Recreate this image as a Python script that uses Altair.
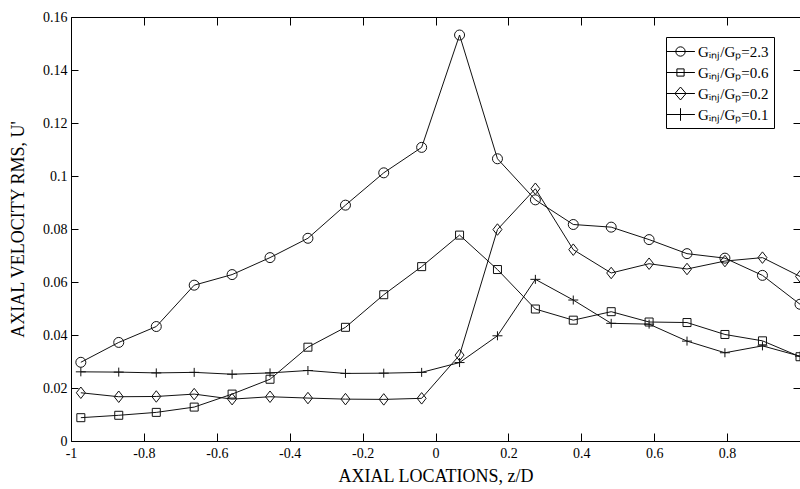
import altair as alt
import pandas as pd

# axial locations z/D (sampling positions)
z = [-0.973, -0.869, -0.766, -0.662, -0.558, -0.454, -0.350, -0.247, -0.142, -0.038,
     0.066, 0.170, 0.274, 0.378, 0.482, 0.586, 0.690, 0.794, 0.897, 1.000]

# axial velocity RMS U' for each injection ratio
u_23 = [0.0297, 0.0372, 0.0432, 0.0588, 0.0628, 0.0692, 0.0765, 0.0890, 0.1012, 0.1108,
        0.1532, 0.1065, 0.0910, 0.0817, 0.0807, 0.0760, 0.0707, 0.0690, 0.0625, 0.0516]
u_06 = [0.0088, 0.0097, 0.0108, 0.0128, 0.0177, 0.0233, 0.0354, 0.0429, 0.0552, 0.0658,
        0.0777, 0.0647, 0.0498, 0.0456, 0.0488, 0.0449, 0.0447, 0.0402, 0.0378, 0.0318]
u_02 = [0.0182, 0.0167, 0.0168, 0.0177, 0.0158, 0.0167, 0.0162, 0.0158, 0.0157, 0.0161,
        0.0324, 0.0798, 0.0952, 0.0722, 0.0634, 0.0669, 0.0649, 0.0679, 0.0692, 0.0621]
u_01 = [0.0261, 0.0260, 0.0257, 0.0259, 0.0252, 0.0257, 0.0266, 0.0255, 0.0256, 0.0259,
        0.0296, 0.0397, 0.0610, 0.0532, 0.0444, 0.0441, 0.0377, 0.0333, 0.0359, 0.0320]

series_names = ["Gᵢₙⱼ/Gₚ=2.3", "Gᵢₙⱼ/Gₚ=0.6", "Gᵢₙⱼ/Gₚ=0.2", "Gᵢₙⱼ/Gₚ=0.1"]
x_ticks = [-1, -0.8, -0.6, -0.4, -0.2, 0, 0.2, 0.4, 0.6, 0.8]
y_ticks = [0, 0.02, 0.04, 0.06, 0.08, 0.1, 0.12, 0.14, 0.16]

rows = []
for name, vals in zip(series_names, [u_23, u_06, u_02, u_01]):
    for zi, ui in zip(z, vals):
        rows.append({"series": name, "z": zi, "u": ui})
df = pd.DataFrame(rows)

FONT = "Liberation Serif"
W, H = 729, 424

point_shapes = [
    "circle",
    "M-0.8,-0.8H0.8V0.8H-0.8Z",
    "M0,-1.15L0.9,0L0,1.15L-0.9,0Z",
    "M-1,0H1M0,-0.9V0.9",
]
legend_shapes = [
    "M-1.6,0H1.6M0.52,0A0.52,0.52 0 1,1 -0.52,0A0.52,0.52 0 1,1 0.52,0",
    "M-1.6,0H1.6M-0.4,-0.4H0.4V0.4H-0.4Z",
    "M-1.6,0H1.6M0,-0.72L0.62,0L0,0.72L-0.62,0Z",
    "M-1.6,0H1.6M0,-0.7V0.7",
]

xscale = alt.Scale(domain=[-1, 1], nice=False, zero=False)
yscale = alt.Scale(domain=[0, 0.16], nice=False, zero=False)

common_axis = dict(grid=False, domain=False, labelFlush=False, labelOverlap=False,
                   labelFont=FONT, labelFontSize=14, labelColor="black",
                   tickColor="black", tickWidth=1)

x_label_expr = "datum.value == 0 ? '0' : (datum.value < 0 ? '-' : '') + format(abs(datum.value), '~g')"

lines = alt.Chart(df).mark_line(color="#111111", strokeWidth=1).encode(
    x=alt.X("z:Q", scale=xscale, axis=alt.Axis(
        orient="bottom", values=x_ticks, ticks=False, labelPadding=5,
        labelExpr=x_label_expr,
        title="AXIAL LOCATIONS, z/D", titleFont=FONT, titleFontSize=18,
        titleFontWeight="normal", titleColor="black",
        titleX=W / 2, titleY=35, titleAlign="center", titleBaseline="middle",
        **common_axis)),
    y=alt.Y("u:Q", scale=yscale, axis=alt.Axis(
        orient="left", values=y_ticks, ticks=False, labelPadding=4, format="~g",
        title="AXIAL VELOCITY RMS, U'", titleFont=FONT, titleFontSize=18,
        titleFontWeight="normal", titleColor="black",
        titleX=-53, titleY=H / 2, titleAngle=270, titleAlign="center",
        titleBaseline="middle",
        **common_axis)),
    detail="series:N",
)

points = alt.Chart(df).mark_point(filled=False, color="#111111", strokeWidth=1, size=100, opacity=1).encode(
    x=alt.X("z:Q", scale=xscale, axis=alt.Axis(
        orient="top", offset=-H, values=x_ticks, tickSize=8, labels=False, title=None,
        **common_axis)),
    y=alt.Y("u:Q", scale=yscale, axis=alt.Axis(
        orient="right", offset=-W, values=y_ticks, tickSize=7, labels=False, title=None,
        **common_axis)),
    shape=alt.Shape("series:N", scale=alt.Scale(domain=series_names, range=point_shapes),
                    legend=None),
)

legend_layer = alt.Chart(df).transform_filter("datum.z > 5").mark_point(
    filled=False, color="black", strokeWidth=1, opacity=1).encode(
    x=alt.X("z:Q", scale=xscale, axis=alt.Axis(
        orient="bottom", offset=-H, values=x_ticks, tickSize=8, labels=False, title=None,
        **common_axis)),
    y=alt.Y("u:Q", scale=yscale, axis=alt.Axis(
        orient="left", offset=-W, values=y_ticks, tickSize=7, labels=False, title=None,
        **common_axis)),
    shape=alt.Shape("series:N", scale=alt.Scale(domain=series_names, range=legend_shapes),
                    legend=alt.Legend(
                        title=None, orient="none", legendX=595, legendY=20,
                        symbolSize=324, symbolStrokeColor="black", symbolStrokeWidth=1,
                        symbolFillColor="transparent", symbolOpacity=1,
                        labelFont=FONT, labelFontSize=15, labelColor="black",
                        labelOffset=8, rowPadding=3, padding=5,
                        strokeColor="black", fillColor="white", cornerRadius=0)),
)

chart = alt.layer(lines, points, legend_layer).resolve_scale(
    shape="independent"
).resolve_axis(
    x="independent", y="independent"
).properties(
    width=W, height=H,
    autosize=alt.AutoSizeParams(type="none"),
    padding={"left": 71, "top": 17, "right": 0, "bottom": 48},
    background="white",
).configure_view(
    stroke="black", strokeWidth=1
)

chart.save("out.html", embed_options={"renderer": "svg", "actions": False})
